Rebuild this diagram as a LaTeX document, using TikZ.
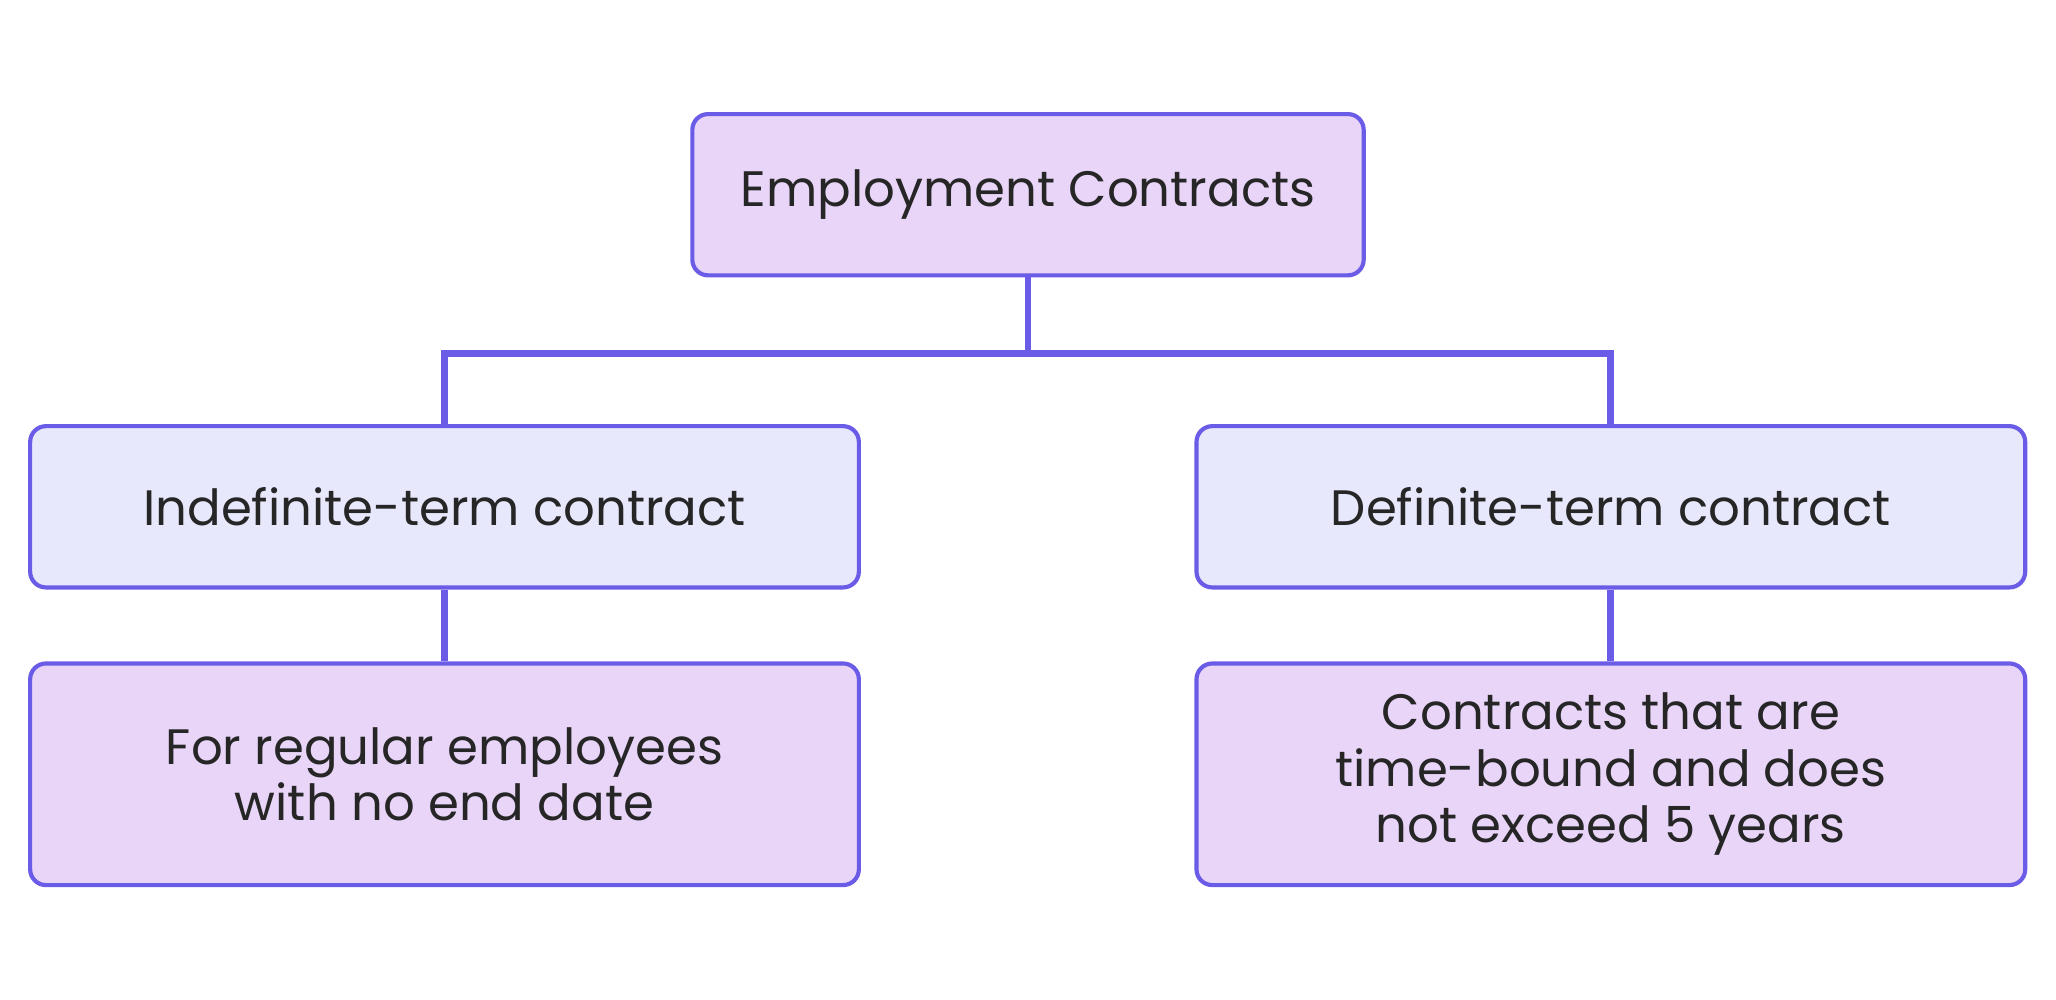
\documentclass[tikz,border=0pt]{standalone}
\usepackage{fontspec}
\setmainfont{Poppins}
\definecolor{edgeblue}{HTML}{6B5CE7}
\definecolor{boxlilac}{HTML}{E8D5F8}
\definecolor{boxlav}{HTML}{E8E8FD}
\tikzset{
  box/.style={draw=edgeblue, line width=0.9pt, rounded corners=0.12cm,
    align=center, text=black!85, font=\fontsize{10.8}{12.3}\selectfont},
  topbox/.style={box, fill=boxlilac},
  midbox/.style={box, fill=boxlav, minimum width=6.32cm, minimum height=1.23cm},
  leafbox/.style={box, fill=boxlilac, minimum width=6.32cm, minimum height=1.69cm},
  link/.style={draw=edgeblue, line width=1.5pt}
}
\begin{document}
\begin{tikzpicture}
  \useasboundingbox (0,0) rectangle (15.68,-7.62);
  % nodes
  \node[topbox, minimum width=5.12cm, minimum height=1.23cm] (contracts) at (7.84,-1.485) {Employment Contracts};
  \node[midbox] (indef) at (3.39,-3.865) {Indefinite-term contract};
  \node[midbox] (def) at (12.285,-3.865) {Definite-term contract};
  \node[leafbox] (regular) at (3.39,-5.905) {For regular employees\\with no end date};
  \node[leafbox] (bound) at (12.285,-5.905) {Contracts that are\\time-bound and does\\not exceed 5 years};
  % connectors
  \draw[link] (contracts.south) -- ++(0,-0.58) coordinate (split) -| (indef.north);
  \draw[link] (split) -| (def.north);
  \draw[link] (indef.south) -- (regular.north);
  \draw[link] (def.south) -- (bound.north);
\end{tikzpicture}
\end{document}
